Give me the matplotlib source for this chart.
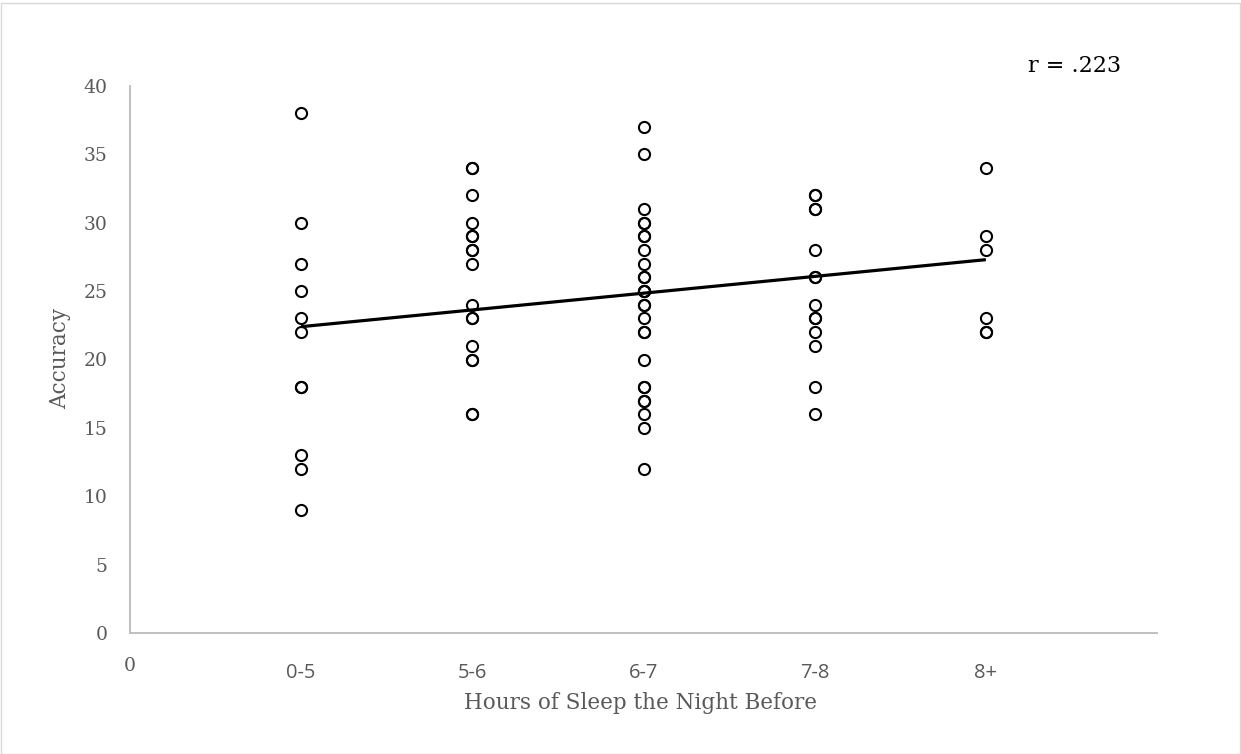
import matplotlib
matplotlib.use("Agg")
import matplotlib.pyplot as plt
from matplotlib.patches import Rectangle
from matplotlib.transforms import blended_transform_factory

# ---- data ----
categories = ["0-5", "5-6", "6-7", "7-8", "8+"]
acc_0_5 = [38, 30, 27, 25, 23, 22, 18, 18, 13, 12, 9]
acc_5_6 = [34, 34, 32, 30, 29, 29, 28, 28, 27, 24, 23, 23, 21, 20, 20, 16, 16]
acc_6_7 = [37, 35, 31, 30, 30, 29, 29, 28, 27, 26, 26, 25, 25, 25, 24, 24,
           23, 22, 22, 20, 18, 18, 17, 17, 16, 15, 12]
acc_7_8 = [32, 32, 31, 31, 28, 26, 26, 24, 23, 23, 22, 21, 18, 16]
acc_8p = [34, 29, 28, 23, 22, 22]
groups = [acc_0_5, acc_5_6, acc_6_7, acc_7_8, acc_8p]
trend_x = [1, 5]
trend_y = [22.4, 27.3]
y_ticks = [0, 5, 10, 15, 20, 25, 30, 35, 40]
r_label = "r = .223"

W, H = 1241, 754
fig = plt.figure(figsize=(W / 100, H / 100), dpi=100)
ax = fig.add_axes([130 / W, 1 - 633 / H, (1157 - 130) / W, (633 - 86) / H])

serif = "DejaVu Serif"
grey = "#595959"

for i, vals in enumerate(groups, start=1):
    ax.plot([i] * len(vals), vals, linestyle="none", marker="o",
            markersize=8, markerfacecolor="none", markeredgecolor="black",
            markeredgewidth=1.5, zorder=3)

ax.plot(trend_x, trend_y, color="black", linewidth=2.3, zorder=4,
        solid_capstyle="butt")

ax.set_xlim(0, 6)
ax.set_ylim(0, 40)
ax.set_yticks(y_ticks)
ax.set_yticklabels([str(v) for v in y_ticks], fontfamily=serif, fontsize=13.5,
                   color=grey)
ax.set_xticks([0])
ax.set_xticklabels(["0"], fontfamily=serif, fontsize=13.5, color=grey)
ax.tick_params(axis="y", length=0, pad=16)
ax.tick_params(axis="x", length=0, pad=17)

for s in ["top", "right"]:
    ax.spines[s].set_visible(False)
for s in ["left", "bottom"]:
    ax.spines[s].set_color("#BFBFBF")
    ax.spines[s].set_linewidth(1.4)

trans = blended_transform_factory(ax.transData, fig.transFigure)
for i, c in enumerate(categories, start=1):
    ax.text(i, 1 - 673 / H, c, transform=trans, ha="center", va="center",
            fontfamily="Open Sans", fontsize=14.5, color=grey)

fig.text(641 / W, 1 - 703 / H, "Hours of Sleep the Night Before",
         ha="center", va="center", fontfamily=serif, fontsize=15.5, color=grey)
fig.text(60 / W, 1 - 358 / H, "Accuracy", rotation=90, ha="center",
         va="center", fontfamily=serif, fontsize=15.5, color=grey)
fig.text(1075 / W, 1 - 66 / H, r_label, ha="center", va="center",
         fontfamily=serif, fontsize=16, color="black")

fig.patches.append(Rectangle((0.5 / W, 0.5 / H), 1 - 1.5 / W, 1 - 3 / H,
                             transform=fig.transFigure, fill=False,
                             edgecolor="#D9D9D9", linewidth=1.0))

fig.savefig("out.png", dpi=100)
